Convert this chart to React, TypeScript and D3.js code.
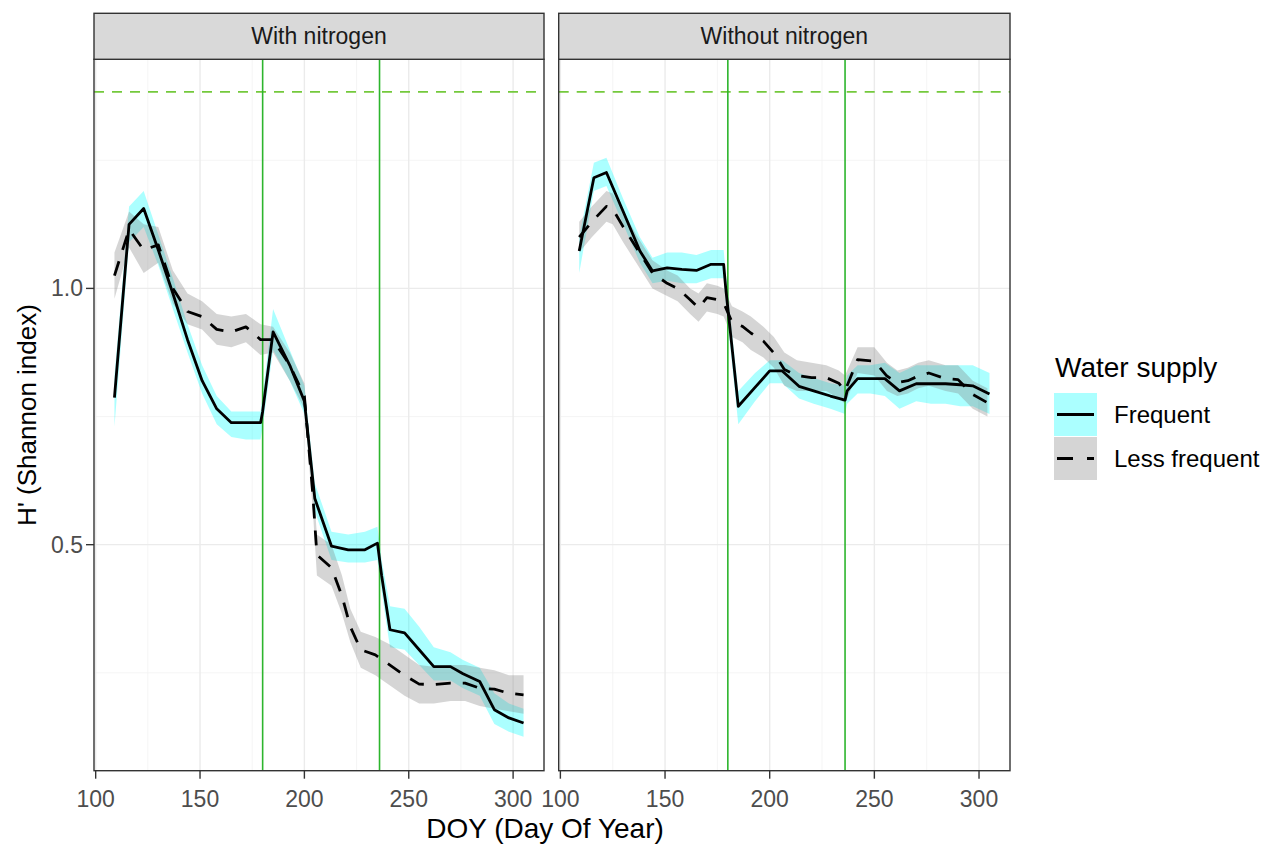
import React from "react";
import * as d3 from "d3";

// [DOY, mean H', lower, upper]
const withNFrequent: [number, number, number, number][] = [
  [109, 0.787, 0.73, 0.83], [116, 1.125, 1.09, 1.16], [123, 1.156, 1.12, 1.19],
  [130, 1.075, 1.045, 1.105], [137, 0.99, 0.96, 1.02], [144, 0.9, 0.875, 0.93],
  [151, 0.82, 0.795, 0.85], [158, 0.765, 0.735, 0.79], [165, 0.738, 0.71, 0.76],
  [172, 0.738, 0.705, 0.76], [179, 0.738, 0.705, 0.76], [180, 0.76, 0.73, 0.79],
  [185, 0.915, 0.88, 0.96], [193, 0.85, 0.82, 0.88], [200, 0.78, 0.755, 0.81],
  [205, 0.59, 0.565, 0.62], [213, 0.497, 0.47, 0.525], [221, 0.49, 0.465, 0.52],
  [229, 0.49, 0.465, 0.525], [235, 0.503, 0.47, 0.535], [237, 0.44, 0.41, 0.47],
  [241, 0.334, 0.3, 0.38], [248, 0.328, 0.295, 0.375], [255, 0.295, 0.265, 0.34],
  [262, 0.262, 0.235, 0.3], [270, 0.262, 0.235, 0.29], [276, 0.248, 0.22, 0.275],
  [284, 0.233, 0.205, 0.26], [291, 0.178, 0.15, 0.21], [298, 0.162, 0.135, 0.19],
  [305, 0.152, 0.125, 0.18],
];

const withNLess: [number, number, number, number][] = [
  [109, 1.025, 0.98, 1.07], [116, 1.115, 1.08, 1.15], [123, 1.075, 1.03, 1.125],
  [130, 1.085, 1.05, 1.12], [137, 1.0, 0.97, 1.035], [144, 0.955, 0.93, 0.99],
  [151, 0.945, 0.92, 0.975], [158, 0.92, 0.89, 0.95], [165, 0.915, 0.885, 0.945],
  [172, 0.925, 0.895, 0.95], [179, 0.9, 0.87, 0.93], [185, 0.9, 0.875, 0.925],
  [193, 0.85, 0.82, 0.875], [200, 0.79, 0.765, 0.815], [204, 0.6, 0.57, 0.63],
  [206, 0.48, 0.44, 0.52], [213, 0.455, 0.42, 0.5], [218, 0.4, 0.365, 0.44],
  [222, 0.34, 0.31, 0.375], [227, 0.295, 0.26, 0.33], [234, 0.285, 0.245, 0.32],
  [241, 0.265, 0.225, 0.305], [248, 0.245, 0.205, 0.285], [255, 0.228, 0.19, 0.265],
  [262, 0.227, 0.19, 0.262], [270, 0.23, 0.195, 0.265], [277, 0.23, 0.195, 0.265],
  [284, 0.22, 0.185, 0.26], [291, 0.218, 0.18, 0.255], [298, 0.21, 0.175, 0.245],
  [305, 0.207, 0.17, 0.245],
];

const withoutNFrequent: [number, number, number, number][] = [
  [109, 1.073, 1.03, 1.1], [116, 1.216, 1.19, 1.245], [122, 1.226, 1.2, 1.255],
  [130, 1.15, 1.125, 1.175], [138, 1.073, 1.05, 1.1], [144, 1.034, 1.01, 1.06],
  [151, 1.04, 1.015, 1.07], [158, 1.037, 1.01, 1.07], [165, 1.035, 1.01, 1.065],
  [172, 1.047, 1.02, 1.075], [178, 1.047, 1.02, 1.075], [179, 1.0, 0.97, 1.03],
  [185, 0.77, 0.735, 0.8], [193, 0.807, 0.78, 0.835], [200, 0.839, 0.815, 0.86],
  [206, 0.839, 0.815, 0.86], [214, 0.809, 0.785, 0.835], [221, 0.8, 0.775, 0.825],
  [229, 0.79, 0.765, 0.815], [236, 0.782, 0.755, 0.81], [237, 0.8, 0.775, 0.83],
  [242, 0.824, 0.795, 0.85], [248, 0.824, 0.795, 0.85], [255, 0.824, 0.79, 0.855],
  [262, 0.8, 0.765, 0.835], [270, 0.814, 0.78, 0.85], [277, 0.814, 0.775, 0.85],
  [284, 0.814, 0.775, 0.85], [291, 0.812, 0.77, 0.85], [297, 0.81, 0.77, 0.85],
  [305, 0.794, 0.755, 0.835],
];

const withoutNLess: [number, number, number, number][] = [
  [109, 1.1, 1.07, 1.13], [115, 1.13, 1.1, 1.16], [122, 1.16, 1.13, 1.19],
  [125, 1.155, 1.125, 1.185], [130, 1.12, 1.09, 1.15], [137, 1.075, 1.045, 1.1],
  [144, 1.03, 1.0, 1.055], [151, 1.01, 0.985, 1.035], [156, 1.0, 0.975, 1.025],
  [162, 0.978, 0.95, 1.0], [166, 0.962, 0.935, 0.99], [170, 0.982, 0.955, 1.01],
  [175, 0.978, 0.95, 1.005], [178, 0.972, 0.945, 1.0], [182, 0.934, 0.905, 0.965],
  [187, 0.926, 0.895, 0.955], [191, 0.913, 0.88, 0.945], [197, 0.897, 0.865, 0.925],
  [202, 0.874, 0.845, 0.905], [207, 0.842, 0.81, 0.875], [213, 0.83, 0.8, 0.86],
  [220, 0.826, 0.8, 0.855], [227, 0.826, 0.8, 0.85], [233, 0.815, 0.785, 0.84],
  [236, 0.8, 0.775, 0.83], [242, 0.861, 0.835, 0.885], [250, 0.858, 0.83, 0.885],
  [256, 0.829, 0.8, 0.855], [261, 0.816, 0.79, 0.84], [266, 0.82, 0.795, 0.845],
  [271, 0.829, 0.805, 0.855], [276, 0.835, 0.81, 0.86], [284, 0.824, 0.8, 0.85],
  [290, 0.822, 0.795, 0.85], [297, 0.793, 0.765, 0.82], [304, 0.777, 0.75, 0.805],
];

const panelTitles = ["With nitrogen", "Without nitrogen"];
const seriesNames = ["Frequent", "Less frequent"];
const xTicks = [100, 150, 200, 250, 300];
const xMinor = [125, 175, 225, 275];
const yTicks = [0.5, 1.0];
const yMinor = [0.25, 0.75, 1.25];
const vLines = [180, 236];
const hLineValue = Math.log(4);

const FONT = "'Liberation Sans', Arial, sans-serif";

type Row = [number, number, number, number];

export default function App() {
  const top = 59.3;
  const bottom = 770.7;
  const stripTop = 13.3;
  const panels = [
    { title: panelTitles[0], x0: 94, x1: 544, freq: withNFrequent, less: withNLess },
    { title: panelTitles[1], x0: 558.7, x1: 1010, freq: withoutNFrequent, less: withoutNLess },
  ];
  const y = d3.scaleLinear().domain([0.059, 1.447]).range([bottom, top]);

  return (
    <svg width={1270} height={845} style={{ position: "absolute", left: 0, top: 0, background: "#fff" }}
      fontFamily={FONT}>
      <rect x={0} y={0} width={1270} height={845} fill="#fff" />
      {panels.map((p, pi) => {
        const x = d3.scaleLinear().domain([99.2, 314.8]).range([p.x0, p.x1]);
        const area = d3.area<Row>().x((d) => x(d[0])).y0((d) => y(d[2])).y1((d) => y(d[3]));
        const line = d3.line<Row>().x((d) => x(d[0])).y((d) => y(d[1]));
        const clipId = `clip${pi}`;
        return (
          <g key={pi}>
            <defs>
              <clipPath id={clipId}>
                <rect x={p.x0} y={top} width={p.x1 - p.x0} height={bottom - top} />
              </clipPath>
            </defs>
            <rect x={p.x0} y={top} width={p.x1 - p.x0} height={bottom - top} fill="#fff" />
            {xMinor.map((t) => (
              <line key={"xm" + t} x1={x(t)} x2={x(t)} y1={top} y2={bottom} stroke="#F2F2F2" strokeWidth={0.8} />
            ))}
            {yMinor.map((t) => (
              <line key={"ym" + t} x1={p.x0} x2={p.x1} y1={y(t)} y2={y(t)} stroke="#F2F2F2" strokeWidth={0.8} />
            ))}
            {xTicks.map((t) => (
              <line key={"xg" + t} x1={x(t)} x2={x(t)} y1={top} y2={bottom} stroke="#EBEBEB" strokeWidth={1.4} />
            ))}
            {yTicks.map((t) => (
              <line key={"yg" + t} x1={p.x0} x2={p.x1} y1={y(t)} y2={y(t)} stroke="#EBEBEB" strokeWidth={1.4} />
            ))}
            <g clipPath={`url(#${clipId})`}>
              <path d={area(p.freq) || ""} fill="#00FFFF" fillOpacity={0.33} />
              <path d={area(p.less) || ""} fill="#808080" fillOpacity={0.33} />
              <line x1={p.x0} x2={p.x1} y1={y(hLineValue) + 1.5} y2={y(hLineValue) + 1.5} stroke="#74C93C"
                strokeWidth={1.6} strokeDasharray="10,8" />
              {vLines.map((v) => (
                <line key={"v" + v} x1={x(v)} x2={x(v)} y1={top} y2={bottom} stroke="#2DB52D" strokeWidth={1.6} />
              ))}
              <path d={line(p.freq) || ""} fill="none" stroke="#000" strokeWidth={2.8} strokeLinejoin="round" />
              <path d={line(p.less) || ""} fill="none" stroke="#000" strokeWidth={2.8}
                strokeDasharray="15,12" strokeLinejoin="round" />
            </g>
            <rect x={p.x0} y={top} width={p.x1 - p.x0} height={bottom - top} fill="none" stroke="#333" strokeWidth={1.4} />
            <rect x={p.x0} y={stripTop} width={p.x1 - p.x0} height={top - stripTop} fill="#D9D9D9" stroke="#333" strokeWidth={1.4} />
            <text x={(p.x0 + p.x1) / 2} y={(stripTop + top) / 2} dy="0.35em" textAnchor="middle" fontSize={23} fill="#1A1A1A">
              {p.title}
            </text>
            {xTicks.map((t) => (
              <g key={"xt" + t}>
                <line x1={x(t)} x2={x(t)} y1={bottom} y2={bottom + 8} stroke="#333" strokeWidth={1.4} />
                <text x={x(t)} y={bottom + 28} dy="0.35em" textAnchor="middle" fontSize={23} fill="#4D4D4D">
                  {t}
                </text>
              </g>
            ))}
            {pi === 0 &&
              yTicks.map((t) => (
                <g key={"yt" + t}>
                  <line x1={p.x0 - 8} x2={p.x0} y1={y(t)} y2={y(t)} stroke="#333" strokeWidth={1.4} />
                  <text x={p.x0 - 11} y={y(t)} dy="0.35em" textAnchor="end" fontSize={23} fill="#4D4D4D">
                    {t.toFixed(1)}
                  </text>
                </g>
              ))}
          </g>
        );
      })}
      <text x={545} y={828} dy="0.35em" textAnchor="middle" fontSize={28} fill="#000">
        DOY (Day Of Year)
      </text>
      <text transform={`translate(27,${(top + bottom) / 2}) rotate(-90)`} dy="0.35em" textAnchor="middle" fontSize={26} fill="#000">
        H' (Shannon index)
      </text>
      <text x={1055} y={367} dy="0.35em" fontSize={28} fill="#000">Water supply</text>
      {seriesNames.map((s, i) => {
        const ky = 393 + i * 44;
        return (
          <g key={s}>
            <rect x={1054} y={ky} width={43} height={43} fill={i === 0 ? "#00FFFF" : "#808080"} fillOpacity={0.33} />
            <line x1={1057} x2={1094} y1={ky + 21.5} y2={ky + 21.5} stroke="#000" strokeWidth={2.8}
              strokeDasharray={i === 0 ? undefined : "16,14"} />
            <text x={1114} y={ky + 21.5} dy="0.35em" fontSize={24} fill="#000">{s}</text>
          </g>
        );
      })}
    </svg>
  );
}
